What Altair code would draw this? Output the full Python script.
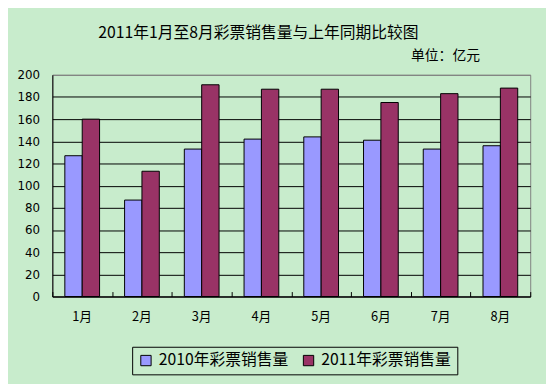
import altair as alt
import pandas as pd

months = ["1月", "2月", "3月", "4月", "5月", "6月", "7月", "8月"]
series_names = ["2010年彩票销售量", "2011年彩票销售量"]
sales_2010 = [127, 87, 133, 142, 144, 141, 133, 136]
sales_2011 = [160, 113, 191, 187, 187, 175, 183, 188]
y_ticks = list(range(0, 201, 20))
title_text = "2011年1月至8月彩票销售量与上年同期比较图"
unit_text = "单位：亿元"

rows = []
for m, a, b in zip(months, sales_2010, sales_2011):
    rows.append({"month": m, "series": series_names[0], "value": a})
    rows.append({"month": m, "series": series_names[1], "value": b})
df = pd.DataFrame(rows)

W, H = 485, 225
BG = "#C8ECCC"
CJK = "Noto Sans CJK SC"

xscale = alt.Scale(domain=months, paddingInner=0, paddingOuter=0)

bars = alt.Chart(df).mark_bar(stroke="black", strokeWidth=1).encode(
    x=alt.X("month:N", scale=xscale, sort=months,
            axis=alt.Axis(title=None, labelAngle=0, labelFont=CJK, labelFontSize=13,
                          labelColor="black", ticks=False, labelPadding=14,
                          domainColor="black", grid=False)),
    xOffset=alt.XOffset("series:N", sort=series_names,
                        scale=alt.Scale(paddingInner=0, paddingOuter=0.72)),
    y=alt.Y("value:Q", scale=alt.Scale(domain=[0, 200]),
            axis=alt.Axis(values=y_ticks, title=None, ticks=False, labelPadding=13,
                          labelFont="DejaVu Sans", labelFontSize=12, labelColor="black",
                          domainColor="black",
                          gridColor={"condition": {"test": "datum.value === 200", "value": "#808080"},
                                     "value": "black"},
                          gridOpacity=1)),
    color=alt.Color("series:N", sort=series_names,
                    scale=alt.Scale(domain=series_names, range=["#9999FF", "#993366"]),
                    legend=alt.Legend(orient="none", legendX=81, legendY=276,
                                      direction="horizontal", title=None,
                                      symbolType="square", symbolSize=110,
                                      symbolStrokeColor="black", symbolStrokeWidth=1,
                                      symbolOpacity=1,
                                      labelFont=CJK, labelFontSize=16, labelColor="black",
                                      labelOffset=5, columnPadding=12,
                                      strokeColor="black", padding=6)),
)

tick_layer = alt.Chart(df).mark_point(opacity=0).encode(
    x=alt.X("month:N", scale=xscale, sort=months,
            axis=alt.Axis(orient="top", offset=-H, labels=False, domain=False,
                          ticks=True, tickSize=5, tickColor="black", tickBand="extent",
                          grid=False, title=None)),
)

title_layer = alt.Chart(pd.DataFrame({"t": [title_text]})).mark_text(
    font=CJK, fontSize=16, color="black", align="center", baseline="middle"
).encode(text="t:N", x=alt.value(209), y=alt.value(-42))

unit_layer = alt.Chart(pd.DataFrame({"t": [unit_text]})).mark_text(
    font=CJK, fontSize=14, color="black", align="right", baseline="middle"
).encode(text="t:N", x=alt.value(434), y=alt.value(-19))

chart = alt.layer(bars, tick_layer, title_layer, unit_layer).resolve_axis(
    x="independent"
).properties(
    width=W, height=H,
    background=BG,
    autosize=alt.AutoSizeParams(type="none"),
    padding={"left": 45, "top": 65, "right": 16, "bottom": 86},
).configure_view(stroke="#808080", strokeWidth=1)

chart.save("out.html", embed_options={"renderer": "svg", "actions": False})
